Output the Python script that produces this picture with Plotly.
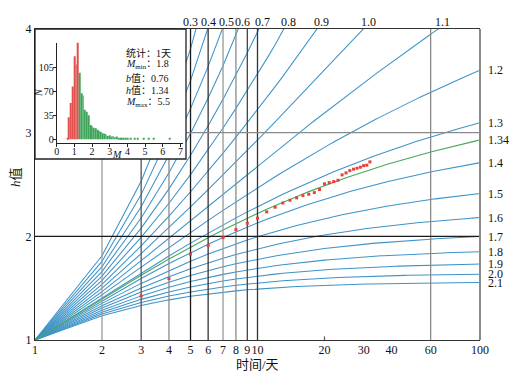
import numpy as np
import plotly.graph_objects as go

# ---------------- data ----------------
h_values = [0.3, 0.4, 0.5, 0.6, 0.7, 0.8, 0.9, 1.0, 1.1, 1.2, 1.3, 1.4,
            1.5, 1.6, 1.7, 1.8, 1.9, 2.0, 2.1]
h_fit = 1.34
days = list(range(1, 101))

obs_days = list(range(3, 33))
obs_ratio = [1.425, 1.592, 1.830, 1.910, 1.987, 2.065, 2.126, 2.175,
             2.236, 2.281, 2.322, 2.348, 2.371, 2.393, 2.406, 2.422,
             2.451, 2.506, 2.518, 2.528, 2.541, 2.593, 2.612, 2.634,
             2.648, 2.657, 2.667, 2.682, 2.686, 2.718]

hist_m = [0.6, 0.7, 0.8, 0.9, 1.0, 1.1, 1.2, 1.3, 1.4, 1.5, 1.6, 1.7, 1.8,
          1.9, 2.0, 2.1, 2.2, 2.3, 2.4, 2.5, 2.6, 2.7, 2.8, 2.9, 3.0, 3.1,
          3.2, 3.3, 3.4, 3.5, 3.6, 3.7, 3.8, 3.9, 4.0, 4.2, 4.4, 4.6, 4.9,
          5.2, 5.5, 6.4]
hist_n = [2, 32, 53, 77, 121, 109, 142, 97, 67, 64, 43, 40, 35,
          21, 19, 17, 16, 14, 12, 11, 9, 8, 7, 5, 6, 4,
          5, 3, 4, 2, 2, 1, 2, 1, 1, 1, 1, 1, 1,
          1, 1, 1]
hist_split = 1.25

x_tickvals = [1, 2, 3, 4, 5, 6, 7, 8, 9, 10, 20, 30, 40, 60, 100]
y_tickvals = [1, 2, 3, 4]
vgrid = [2, 3, 4, 5, 6, 7, 8, 9, 10, 60]
vgrid_col = ['#9a9a9a', '#555555', '#8a8a8a', '#1a1a1a', '#333333', '#9a9a9a',
             '#8a8a8a', '#444444', '#333333', '#8a8a8a']
hgrid = [2, 3]
hgrid_col = ['#1a1a1a', '#8a8a8a']

stats_lines = ["统计：1天", "<i>M</i><sub>min</sub>：1.8", "<i>b</i>值：0.76",
               "<i>h</i>值：1.34", "<i>M</i><sub>max</sub>：5.5"]

FONT = "Liberation Serif, Noto Sans CJK SC, serif"
BLUE = '#3d93c9'
GREEN = '#4aa75a'

W, H = 530, 377
ML, MR, MT, MB = 35, 50, 29, 37
PW, PH = W - ML - MR, H - MT - MB


def px2paper(px, py):
    return (px - ML) / PW, (H - MB - py) / PH


def curve(h):
    d = np.array(days, dtype=float)
    return np.cumsum(d ** (-h))


fig = go.Figure()

# standard curves
for h in h_values:
    fig.add_trace(go.Scatter(x=days, y=curve(h), mode='lines',
                             line=dict(color=BLUE, width=1.05),
                             showlegend=False, hoverinfo='skip'))
fig.add_trace(go.Scatter(x=days, y=curve(h_fit), mode='lines',
                         line=dict(color=GREEN, width=1.1),
                         showlegend=False, hoverinfo='skip'))

# grid lines
for v, c in zip(vgrid, vgrid_col):
    fig.add_trace(go.Scatter(x=[v, v], y=[1, 4], mode='lines',
                             line=dict(color=c, width=1.3),
                             showlegend=False, hoverinfo='skip'))
for v, c in zip(hgrid, hgrid_col):
    fig.add_trace(go.Scatter(x=[1, 100], y=[v, v], mode='lines',
                             line=dict(color=c, width=1.3),
                             showlegend=False, hoverinfo='skip'))
fig.add_trace(go.Scatter(x=[20, 20], y=[1, 1.035], mode='lines',
                         line=dict(color='#555', width=1.2),
                         showlegend=False, hoverinfo='skip'))

# observed points
fig.add_trace(go.Scatter(x=obs_days, y=obs_ratio, mode='markers',
                         marker=dict(color='#e8403a', size=3, symbol='square'),
                         showlegend=False, hoverinfo='skip'))

# cover subplot for inset (white background)
cx0, cy0 = px2paper(35, 159)
cx1, cy1 = px2paper(186, 29)
fig.add_trace(go.Scatter(x=[0], y=[0], xaxis='x2', yaxis='y2', mode='markers',
                         marker=dict(opacity=0), showlegend=False, hoverinfo='skip'))

# histogram
red_m = [m for m in hist_m if m < hist_split]
red_n = [n for m, n in zip(hist_m, hist_n) if m < hist_split]
grn_m = [m for m in hist_m if m >= hist_split]
grn_n = [n for m, n in zip(hist_m, hist_n) if m >= hist_split]
fig.add_trace(go.Bar(x=red_m, y=red_n, width=0.05, marker=dict(color='#e0504c', line=dict(width=0)),
                     xaxis='x3', yaxis='y3', showlegend=False, hoverinfo='skip'))
fig.add_trace(go.Bar(x=grn_m, y=grn_n, width=0.05, marker=dict(color='#3fa55a', line=dict(width=0)),
                     xaxis='x3', yaxis='y3', showlegend=False, hoverinfo='skip'))

hx0, hy0 = px2paper(56.7, 143.3)
hx1, hy1 = px2paper(182.7, 42.7)

annotations = []
# top labels where curves leave through y = 4
top_shift = {0.3: -6, 0.4: 0}
for h in h_values:
    y = curve(h)
    if y[-1] > 4:
        i = int(np.argmax(y >= 4))
        lt0, lt1 = np.log10(days[i - 1]), np.log10(days[i])
        f = (4 - y[i - 1]) / (y[i] - y[i - 1])
        lx = lt0 + f * (lt1 - lt0)
        annotations.append(dict(x=lx, y=1, xref='x', yref='paper', text=f"{h:.1f}",
                                showarrow=False, xanchor='center', yanchor='bottom',
                                xshift=top_shift.get(h, 4), yshift=-1, borderpad=0,
                                font=dict(size=12, family=FONT, color='#111')))
    else:
        annotations.append(dict(x=1, y=y[-1], xref='paper', yref='y', text=f"{h:.1f}",
                                showarrow=False, xanchor='left', yanchor='middle', xshift=7,
                                borderpad=0,
                                font=dict(size=12, family=FONT, color='#111')))
annotations.append(dict(x=1, y=curve(h_fit)[-1], xref='paper', yref='y', text=f"{h_fit:.2f}",
                        showarrow=False, xanchor='left', yanchor='middle', xshift=7,
                        borderpad=0,
                        font=dict(size=12, family=FONT, color='#111')))

# axis titles
ax, ay = px2paper(257, 364)
annotations.append(dict(x=ax, y=ay, xref='paper', yref='paper', text="时间/天",
                        showarrow=False, xanchor='center', yanchor='middle',
                        font=dict(size=13, family=FONT, color='#111')))
ax, ay = px2paper(15, 177)
annotations.append(dict(x=ax, y=ay, xref='paper', yref='paper', text="<i>h</i>值",
                        showarrow=False, xanchor='center', yanchor='middle', textangle=-90,
                        font=dict(size=13, family=FONT, color='#111')))
# inset titles
ax, ay = px2paper(38, 93)
annotations.append(dict(x=ax, y=ay, xref='paper', yref='paper', text="<i>N</i>",
                        showarrow=False, xanchor='center', yanchor='middle', textangle=-90,
                        font=dict(size=10, family=FONT, color='#111')))
ax, ay = px2paper(117, 154)
annotations.append(dict(x=ax, y=ay, xref='paper', yref='paper', text="<i>M</i>",
                        showarrow=False, xanchor='center', yanchor='middle',
                        font=dict(size=10, family=FONT, color='#111')))
for k, (txt, py) in enumerate(zip(stats_lines, [53, 65, 78, 90, 102])):
    ax, ay = px2paper(124, py)
    annotations.append(dict(x=ax, y=ay, xref='paper', yref='paper', text=txt,
                            showarrow=False, xanchor='left', yanchor='middle',
                            font=dict(size=10, family=FONT, color='#111')))

shapes = [
    dict(type='rect', xref='paper', yref='paper', x0=cx0, x1=cx1, y0=cy0, y1=cy1,
         line=dict(color='#222', width=1.3), layer='above'),
    dict(type='line', xref='paper', yref='paper', x0=1, x1=1, y0=0, y1=1,
         line=dict(color='#8a8a8a', width=2), layer='above'),
]

fig.update_layout(
    width=W, height=H,
    margin=dict(l=ML, r=MR, t=MT, b=MB, autoexpand=False),
    paper_bgcolor='white', plot_bgcolor='white',
    font=dict(family=FONT, size=12, color='#111'),
    showlegend=False,
    barmode='overlay',
    hovermode=False,
    xaxis=dict(type='log', range=[0, 2], tickvals=x_tickvals,
               ticktext=[str(v) for v in x_tickvals], showgrid=False, zeroline=False,
               showline=True, linecolor='#333', linewidth=1.3, mirror=True, ticks='',
               tickangle=0, automargin=False, ticklabelstandoff=-2,
               tickfont=dict(size=12, family=FONT, color='#111')),
    yaxis=dict(range=[1, 4], tickvals=y_tickvals, showgrid=False, zeroline=False,
               showline=True, linecolor='#222', linewidth=1.3, ticks='', automargin=False,
               tickfont=dict(size=12, family=FONT, color='#111')),
    xaxis2=dict(domain=[cx0, cx1], anchor='y2', range=[0, 1], visible=False),
    yaxis2=dict(domain=[cy0, cy1], anchor='x2', range=[0, 1], visible=False),
    xaxis3=dict(domain=[hx0, hx1], anchor='y3', range=[0, 7.13], tickvals=list(range(8)),
                showgrid=False, zeroline=False, showline=True, linecolor='#222', linewidth=1,
                ticks='outside', ticklen=3, tickcolor='#222', tickangle=0, automargin=False,
                ticklabelstandoff=-4,
                tickfont=dict(size=10, family=FONT, color='#111')),
    yaxis3=dict(domain=[hy0, hy1], anchor='x3', range=[-5.8, 140.8], tickvals=[0, 35, 70, 105],
                showgrid=False, zeroline=False, showline=True, linecolor='#222', linewidth=1,
                ticks='outside', ticklen=3, tickcolor='#222', automargin=False,
                ticklabelstandoff=-3,
                tickfont=dict(size=10, family=FONT, color='#111')),
    annotations=annotations,
    shapes=shapes,
)

fig.write_html("out.html", config={'displayModeBar': False},
               post_script="document.body.style.margin='0px';document.body.style.padding='0px';")
